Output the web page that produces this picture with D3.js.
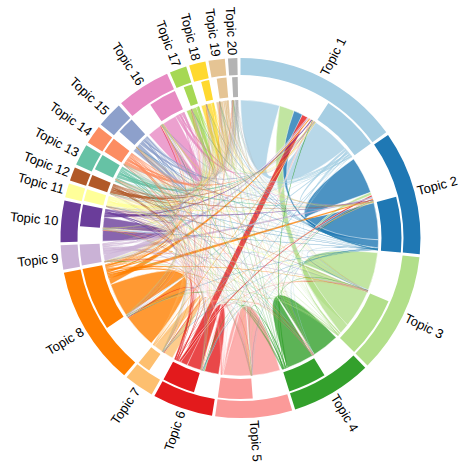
<!DOCTYPE html>
<html><head><meta charset="utf-8">
<script src="https://cdn.jsdelivr.net/npm/d3@7"></script>
<style>body{margin:0;background:#fff}svg{display:block}</style>
</head><body>
<svg id="chart" width="461" height="468"></svg>
<script>
const topics = ["Topic 1","Topic 2","Topic 3","Topic 4","Topic 5","Topic 6","Topic 7","Topic 8","Topic 9","Topic 10",
  "Topic 11","Topic 12","Topic 13","Topic 14","Topic 15","Topic 16","Topic 17","Topic 18","Topic 19","Topic 20"];
const colors = ["#a6cee3","#1f78b4","#b2df8a","#33a02c","#fb9a99","#e31a1c","#fdbf6f","#ff7f00","#cab2d6","#6a3d9a",
  "#ffff99","#b15928","#66c2a5","#fc8d62","#8da0cb","#e78ac3","#a6d854","#ffd92f","#e5c494","#b3b3b3"];
// flows[i][j]: width of the link at topic i's outer (first) section, towards topic j's inner-ring section
const flows = [
  [16.5,3.8,6.4,0.3,0.5,2.5,0.3,0.6,0.7,0.4,0.1,0.1,0.1,0.1,0.1,0.3,0.1,0.1,0.1,0.05],
  [0.4,15.6,1.2,0.2,0.3,0.8,0.15,0.3,0.35,0.3,0.05,0.05,0.05,0.05,0.05,0.15,0.05,0.05,0.05,0.02],
  [0.15,0.1,16,0.1,0.1,0.15,0.03,0.08,0.08,0.06,0.02,0.02,0.02,0.02,0.02,0.03,0.02,0.02,0.02,0.01],
  [0.1,0.08,0.15,11.5,0.08,0.1,0.03,0.08,0.06,0.05,0.02,0.02,0.02,0.02,0.02,0.03,0.02,0.02,0.03,0.02],
  [0.05,0.05,0.04,0.04,11.8,0.08,0.02,0.05,0.03,0.03,0.01,0.01,0.01,0.01,0.02,0.02,0.01,0.02,0.02,0.01],
  [0.2,0.15,0.3,0.25,0.2,6,0.05,0.15,0.08,0.06,0.02,0.02,0.03,0.02,0.02,0.04,0.05,0.03,0.03,0.01],
  [0.1,0.08,0.08,0.06,0.1,0.2,4,0.15,0.04,0.04,0.01,0.02,0.01,0.02,0.01,0.03,0.01,0.02,0.01,0.01],
  [0.15,0.12,0.12,0.1,0.12,0.25,0.15,14.3,0.12,0.1,0.02,0.03,0.02,0.03,0.02,0.06,0.02,0.03,0.02,0.01],
  [0.04,0.03,0.03,0.02,0.02,0.04,0.01,0.04,0,0.03,0.005,0.005,0.005,0.005,0.005,0.01,0.005,0.005,0.005,0.005],
  [0.1,0.1,0.08,0.06,0.06,0.12,0.04,0.12,0.12,4.5,0.02,0.02,0.02,0.02,0.02,0.05,0.01,0.02,0.01,0.01],
  [0.04,0.03,0.03,0.02,0.02,0.04,0.01,0.03,0.02,0.02,0,0.005,0.005,0.005,0.005,0.01,0.005,0.005,0.005,0.005],
  [0.04,0.03,0.03,0.02,0.02,0.04,0.01,0.03,0.02,0.02,0.005,0,0.005,0.005,0.005,0.01,0.005,0.005,0.005,0.005],
  [0.06,0.04,0.04,0.03,0.03,0.05,0.01,0.04,0.02,0.02,0.005,0.005,0.8,0.005,0.01,0.02,0.005,0.005,0.005,0.005],
  [0.04,0.03,0.03,0.02,0.02,0.04,0.01,0.03,0.02,0.02,0.005,0.005,0.005,0,0.005,0.01,0.005,0.005,0.005,0.005],
  [0.06,0.05,0.04,0.03,0.03,0.05,0.01,0.04,0.02,0.02,0.005,0.005,0.01,0.005,1.8,0.02,0.005,0.005,0.005,0.005],
  [0.15,0.12,0.12,0.1,0.1,0.2,0.05,0.15,0.08,0.08,0.03,0.03,0.05,0.04,0.06,6,0.04,0.04,0.04,0.02],
  [0.05,0.04,0.04,0.04,0.03,0.05,0.01,0.04,0.02,0.02,0.005,0.005,0.01,0.005,0.01,0.03,2,0.01,0.01,0.005],
  [0.05,0.04,0.04,0.03,0.04,0.05,0.01,0.04,0.02,0.02,0.005,0.005,0.01,0.005,0.01,0.03,0.01,2,0.01,0.005],
  [0.06,0.04,0.04,0.04,0.04,0.05,0.01,0.04,0.02,0.02,0.005,0.005,0.01,0.005,0.01,0.03,0.01,0.01,1.3,0.005],
  [0.04,0.03,0.03,0.02,0.03,0.04,0.01,0.03,0.01,0.01,0.005,0.005,0.005,0.005,0.005,0.02,0.005,0.005,0.005,0.7]
];
// size of each topic's inner-ring (receiving) section
const incoming = [21,20,22,13.8,12.5,11.8,4.7,22.9,7.5,7.9,4.3,4.1,5.8,5.7,6.2,10,3.1,2.9,3.5,2];

const n = topics.length;
const pad = Math.PI / 180;
const rowSum = flows.map(r => d3.sum(r));
const total = d3.sum(rowSum) + d3.sum(incoming);
const k = (2 * Math.PI - n * pad) / total;

const groups = [], srcPos = {}, tgtPos = {};
let x = 0;
for (let i = 0; i < n; i++) {
  const grp = {index: i, startAngle: x};
  const outOrder = d3.range(n).filter(j => flows[i][j] > 0)
    .sort((a, b) => ((b === i) - (a === i)) || (flows[i][b] - flows[i][a]));
  for (const j of outOrder) {
    const a0 = x; x += flows[i][j] * k;
    srcPos[i + "-" + j] = {startAngle: a0, endAngle: x};
  }
  grp.splitAngle = x;
  const self = flows[i][i];
  const selfW = Math.min(self, incoming[i]);
  const rest = incoming[i] - selfW;
  if (self > 0) { const a0 = x; x += selfW * k; tgtPos[i + "-" + i] = {startAngle: a0, endAngle: x}; }
  const ins = d3.range(n).filter(m => m !== i && flows[m][i] > 0).sort((a, b) => flows[b][i] - flows[a][i]);
  const insSum = d3.sum(ins, m => flows[m][i]);
  for (const m of ins) {
    const a0 = x; x += flows[m][i] / insSum * rest * k;
    tgtPos[m + "-" + i] = {startAngle: a0, endAngle: x};
  }
  grp.endAngle = x;
  groups.push(grp);
  x += pad;
}

const chords = [];
for (let i = 0; i < n; i++) for (let j = 0; j < n; j++) {
  if (flows[i][j] > 0) chords.push({source: srcPos[i + "-" + j], target: tgtPos[i + "-" + j], tIndex: j, w: flows[i][j]});
}
chords.sort((a, b) => b.w - a.w);

const R = 138;
const P = a => [R * Math.sin(a), -R * Math.cos(a)];
function ctrl(a, b) {
  let d = Math.abs(b - a) % (2 * Math.PI); if (d > Math.PI) d = 2 * Math.PI - d;
  const f = Math.sqrt(Math.max(0, Math.cos(d / 2)));
  const p = P(a), q = P(b);
  return [(p[0] + q[0]) / 2 * (1 - f), (p[1] + q[1]) / 2 * (1 - f)];
}
function arcTo(a0, a1) {
  const e = P(a1);
  return `A${R},${R} 0 ${(a1 - a0) > Math.PI ? 1 : 0} 1 ${e[0]},${e[1]}`;
}
function link(d) {
  const s0 = d.source.startAngle, s1 = d.source.endAngle, t0 = d.target.startAngle, t1 = d.target.endAngle;
  const p = P(s0), c1 = ctrl(s1, t0), q = P(t0), c2 = ctrl(t1, s0);
  return `M${p[0]},${p[1]}` + arcTo(s0, s1) + `Q${c1[0]},${c1[1]} ${q[0]},${q[1]}` + arcTo(t0, t1) +
    `Q${c2[0]},${c2[1]} ${p[0]},${p[1]}Z`;
}

const svg = d3.select("#chart");
const g = svg.append("g").attr("transform", "translate(240.5,238)");

g.append("g").selectAll("path").data(chords).join("path")
  .attr("d", link)
  .attr("fill", d => colors[d.tIndex])
  .attr("fill-opacity", 0.8)
  .attr("stroke", d => d.w >= 0.5 ? "#fff" : colors[d.tIndex])
  .attr("stroke-opacity", d => d.w >= 0.5 ? 1 : 0.25)
  .attr("stroke-width", d => d.w >= 0.5 ? 0.5 : 0.25);

const outerArc = d3.arc().innerRadius(163).outerRadius(180);
const innerArc = d3.arc().innerRadius(141).outerRadius(161);
g.append("g").selectAll("path").data(groups).join("path")
  .attr("d", outerArc).attr("fill", d => colors[d.index]);
g.append("g").selectAll("path").data(groups).join("path")
  .attr("d", d => innerArc({startAngle: d.splitAngle, endAngle: d.endAngle})).attr("fill", d => colors[d.index]);

g.append("g").selectAll("text").data(groups).join("text")
  .each(d => { d.angle = (d.startAngle + d.endAngle) / 2; })
  .attr("dy", ".35em")
  .attr("transform", d => `rotate(${d.angle * 180 / Math.PI - 90}) translate(183) ${d.angle > Math.PI ? "rotate(180)" : ""}`)
  .attr("text-anchor", d => d.angle > Math.PI ? "end" : "start")
  .style("font-family", "'Liberation Sans', Arial, sans-serif")
  .style("font-size", "13px")
  .attr("fill", "#000")
  .text(d => topics[d.index]);
</script>
</body></html>
